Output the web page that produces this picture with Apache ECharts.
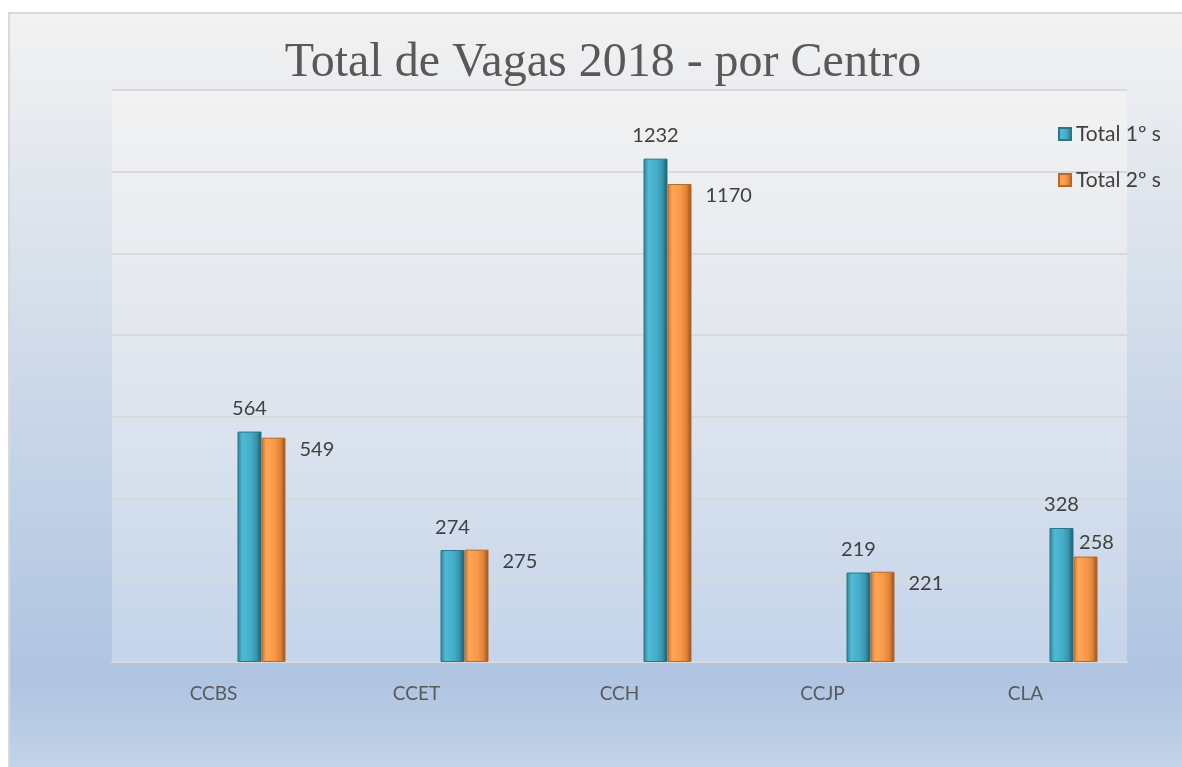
<!DOCTYPE html>
<html>
<head>
<meta charset="utf-8">
<script src="https://cdn.jsdelivr.net/npm/echarts@6/dist/echarts.min.js"></script>
<style>
  html, body { margin: 0; padding: 0; background: #ffffff; overflow: hidden; }
  #chart {
    position: absolute; left: 8px; top: 12px;
    width: 1174px; height: 755px;
    border-top: 2px solid #d9d9d9; border-left: 2px solid #d9d9d9;
  }
</style>
</head>
<body>
<div id="chart"></div>
<script>
// == Data ====================================================================
const centros = ['CCBS', 'CCET', 'CCH', 'CCJP', 'CLA']
const total1s = [564, 274, 1232, 219, 328]
const total2s = [549, 275, 1170, 221, 258]
const seriesNames = ['Total 1º s', 'Total 2º s']

// == Styles ==================================================================
const font = 'Lato, "Open Sans", sans-serif'
const grad = (stops, x2, y2) => new echarts.graphic.LinearGradient(0, 0, x2, y2,
  stops.map(([offset, color]) => ({offset, color})))

const blueBar = grad([[0, '#2f7f95'], [0.2, '#4fbad6'], [0.55, '#44aeca'], [0.8, '#3592ab'], [1, '#1c5666']], 1, 0)
const orangeBar = grad([[0, '#c8722c'], [0.2, '#ffa557'], [0.55, '#f89848'], [0.8, '#dd8238'], [1, '#8a4e1e']], 1, 0)

// placeholder series keep the two real bars right of the category centre,
// like the original sheet does
const empty = centros.map(() => null)
const spacer = () => ({type: 'bar', data: empty, barWidth: 24, barGap: '0%', silent: true})

const myChart = echarts.init(document.getElementById('chart'))
myChart.setOption({
  animation: false,
  backgroundColor: grad([[0, '#f2f2f2'], [0.88, '#afc4e1'], [1, '#c3d3e8']], 0, 1),
  title: {
    text: 'Total de Vagas 2018 - por Centro',
    left: 588, top: 20, textAlign: 'center',
    textStyle: {fontFamily: '"Liberation Serif", serif', fontSize: 48, fontWeight: 'normal', color: '#595959'}
  },
  legend: {
    data: seriesNames,
    orient: 'vertical', left: 1043, top: 103,
    icon: 'rect', itemWidth: 12, itemHeight: 12, itemGap: 22,
    textStyle: {fontFamily: font, fontSize: 21, color: '#404040', lineHeight: 24}
  },
  grid: {
    left: 102, top: 76, right: 57, bottom: 107,
    show: true, borderWidth: 0,
    backgroundColor: grad([[0, '#f2f2f2'], [0.5, '#e0e6ee'], [1, '#c4d4ea']], 0, 1)
  },
  xAxis: {
    type: 'category', data: centros,
    axisLine: {lineStyle: {color: '#d9d9d9', width: 2}},
    axisTick: {show: false},
    axisLabel: {fontFamily: font, fontSize: 19, color: '#595959', margin: 22}
  },
  yAxis: {
    type: 'value', min: 0, max: 1400, interval: 200,
    axisLabel: {show: false},
    axisLine: {show: false}, axisTick: {show: false},
    splitLine: {lineStyle: {color: '#d9d9d9', width: 2}}
  },
  series: [
    spacer(), spacer(), spacer(), spacer(),
    {
      name: seriesNames[0], type: 'bar', data: total1s,
      barWidth: 24, barGap: '0%',
      itemStyle: {color: blueBar, borderColor: '#2a7588', borderWidth: 1},
      label: {show: true, position: 'top', distance: 13, fontFamily: font, fontSize: 20, color: '#404040'}
    },
    {
      name: seriesNames[1], type: 'bar',
      data: total2s.map((v, i) => i === 4
        ? {value: v, label: {position: 'top', distance: 4, offset: [11, 0]}}
        : v),
      barWidth: 24, barGap: '0%',
      itemStyle: {color: orangeBar, borderColor: '#b8682a', borderWidth: 1},
      label: {show: true, position: ['100%', 0], offset: [14, 2], fontFamily: font, fontSize: 20, color: '#404040'}
    }
  ]
})
</script>
</body>
</html>
